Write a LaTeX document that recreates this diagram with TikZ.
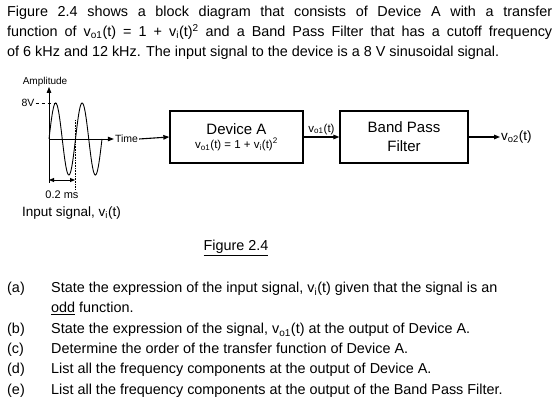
\documentclass[tikz,border=0pt]{standalone}
\usepackage{fontspec}
\setmainfont{Liberation Sans}
\usetikzlibrary{arrows.meta}
\tikzset{
  % a block of the system
  blk/.style  = {draw, line width=1.3pt, minimum height=52pt, align=center,
                 inner sep=0pt},
  % a signal arrow between blocks
  sig/.style  = {-{Triangle[length=6pt,width=4.6pt]}, line width=1.1pt},
  % an axis of the input sketch
  ax/.style   = {-{Triangle[length=6pt,width=4.6pt]}, line width=0.8pt},
  % small labels on the sketch
  sl/.style   = {font=\fontsize{10.5}{12}\selectfont, inner sep=1pt},
  % body text
  txt/.style  = {font=\fontsize{14.4}{20}\selectfont, inner sep=0pt},
}
\newcommand{\vsub}[1]{v\textsubscript{#1}}
\newcommand{\qitem}[4]{%
  \node[txt, anchor=base west] (#1l) at (7,#2)  {(#3)};
  \node[txt, anchor=base west] (#1t) at (51,#2) {#4};
}

\begin{document}
\begin{tikzpicture}[x=1pt, y=-1pt]
  \useasboundingbox (0,0) rectangle (560,411);
  % the statement
  \node[txt, anchor=north west, text width=545pt, align=justify] (intro) at (7,6)
    {Figure 2.4 shows a block diagram that consists of Device A with a transfer\linebreak
     function of \vsub{o1}(t) = 1 + \vsub{i}(t)\textsuperscript{2} and a Band Pass Filter that has a cutoff frequency\linebreak
     of 6 kHz and 12 kHz. The input signal to the device is a 8 V sinusoidal signal.};
  % input signal sketch
  \coordinate (org) at (49,139);
  \coordinate (bot) at (49,183);
  \coordinate (top) at (49,87);
  \coordinate (pk)  at (58,103);
  \node[sl, font=\fontsize{10}{11}\selectfont] (amp) at (45,82) {Amplitude};
  \node[sl] (eightv) at (28,103) {8V};
  \node[sl] (time) at (126.5,139) {Time};
  \draw[ax] (bot) -- (top);
  \draw[ax] (org) -- (time.west);
  \draw[dashed, line width=0.6pt] (eightv.east) -- (pk);
  \draw[line width=0.9pt] plot[domain=0:53, samples=90, smooth]
    ({49+\x}, {139-36*sin(\x/26.5*360)});
  \draw[densely dotted, line width=0.6pt] (75,120) -- (75,190);
  \coordinate (pa) at (49,180);
  \coordinate (pb) at (75,180);
  \draw[{Triangle[length=5pt,width=4pt]}-{Triangle[length=5pt,width=4pt]}, line width=0.9pt]
    (pa) -- (pb);
  \node[sl, font=\fontsize{11}{12}\selectfont] (per) at (62,195) {0.2 ms};
  \node[txt, anchor=west, font=\fontsize{13.5}{15}\selectfont] (inlab) at (22,213)
    {Input signal, \vsub{i}(t)};
  % blocks
  \node[blk, minimum width=133pt] (deva) at (236.5,137)
    {{\fontsize{15}{16}\selectfont Device A}\\[2pt]
     {\fontsize{11.5}{13}\selectfont \vsub{o1}(t) = 1 + \vsub{i}(t)\textsuperscript{2}}};
  \node[blk, minimum width=128pt, font=\fontsize{15}{19}\selectfont] (bpf) at (404,137)
    {Band Pass\\Filter};
  \coordinate (out) at (500,137);
  \draw[sig] (time.east) -- (deva.west);
  \draw[sig] (deva.east) -- node[sl, above=1pt, font=\fontsize{11.5}{13}\selectfont] (vo1) {\vsub{o1}(t)} (bpf.west);
  \draw[sig] (bpf.east) -- (out);
  \node[sl, anchor=west, font=\fontsize{13.5}{15}\selectfont] (vo2) at (out) {\vsub{o2}(t)};
  % caption
  \node[txt, anchor=base] (cap) at (236,251) {\underline{Figure 2.4}};
  % questions
  \qitem{qa}{293}{a}{State the expression of the input signal, \vsub{i}(t) given that the signal is an}
  \node[txt, anchor=base west] (qat2) at (51,313) {\underline{odd} function.};
  \qitem{qb}{334}{b}{State the expression of the signal, \vsub{o1}(t) at the output of Device A.}
  \qitem{qc}{354}{c}{Determine the order of the transfer function of Device A.}
  \qitem{qd}{374}{d}{List all the frequency components at the output of Device A.}
  \qitem{qe}{395}{e}{List all the frequency components at the output of the Band Pass Filter.}
\end{tikzpicture}
\end{document}
